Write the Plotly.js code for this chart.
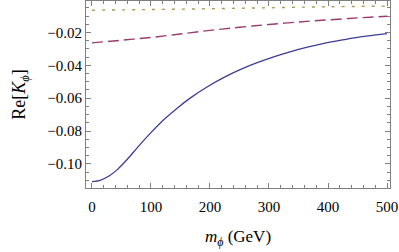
<!DOCTYPE html>
<html><head><meta charset="utf-8">
<script src="https://cdn.plot.ly/plotly-3.0.1.min.js"></script>
<style>body{margin:0;padding:0;background:#fff}#c{width:399px;height:252px}</style>
</head><body><div id="c"></div>
<script>
const xBlue = [0,14,29,43,60,77,100,123,146,167,195,223,252,280,308,337,365,393,422,450,478,500];
const yBlue = [-0.1108,-0.1100,-0.1074,-0.1035,-0.0972,-0.0901,-0.0810,-0.0727,-0.0656,-0.0598,-0.0532,-0.0475,-0.0425,-0.0384,-0.0348,-0.0316,-0.0289,-0.0266,-0.0246,-0.0229,-0.0216,-0.0207];
const xMag = [0,50,100,150,200,250,300,350,400,450,500];
const yMag = [-0.0263,-0.0247,-0.0230,-0.0209,-0.0187,-0.0168,-0.0151,-0.0136,-0.0123,-0.0111,-0.0101];
const xYel = [0,100,200,300,400,500];
const yYel = [-0.0064,-0.0060,-0.0055,-0.0049,-0.0043,-0.0039];
const xTicks = [0,100,200,300,400,500];
const xTickText = ['0','100','200','300','400','500'];
const yTicks = [-0.10,-0.08,-0.06,-0.04,-0.02];
const yTickText = ['\u22120.10','\u22120.08','\u22120.06','\u22120.04','\u22120.02'];

const fam = 'Liberation Serif';
const tickFont = {family:fam, size:15, color:'#000'};
const axisCommon = {
  showline:true, linecolor:'#808080', linewidth:1, mirror:'ticks',
  ticks:'inside', ticklen:5, tickcolor:'#808080', tickwidth:1,
  showgrid:false, zeroline:false, tickfont:tickFont, tickmode:'array'
};
const data = [
  {x:xYel, y:yYel, mode:'lines', line:{color:'#a89a50', width:1.4, dash:'3px,7px', shape:'spline'}},
  {x:xMag, y:yMag, mode:'lines', line:{color:'#993d71', width:1.4, dash:'11px,5px', shape:'spline'}},
  {x:xBlue, y:yBlue, mode:'lines', line:{color:'#3d3d99', width:1.3, shape:'spline', smoothing:0.7}}
];
const layout = {
  width:399, height:252, showlegend:false,
  margin:{l:86, r:9, t:1, b:64},
  paper_bgcolor:'#fff', plot_bgcolor:'#fff', font:{family:fam, size:15, color:'#000'},
  xaxis: Object.assign({}, axisCommon, {
    range:[-10,505], tickvals:xTicks, ticktext:xTickText, ticklabelstandoff:5,
    minor:{dtick:20, tick0:0, ticks:'inside', ticklen:3, tickcolor:'#808080', showgrid:false},
    title:{text:'<i>m</i><sub><i>\u03d5</i></sub> (GeV)', font:{family:fam, size:17, color:'#000'}, standoff:16}
  }),
  yaxis: Object.assign({}, axisCommon, {
    range:[-0.1147,-0.0008], tickvals:yTicks, ticktext:yTickText,
    minor:{dtick:0.005, tick0:0, ticks:'inside', ticklen:3, tickcolor:'#808080', showgrid:false},
    title:{text:'Re[<i>K</i><sub><i>\u03d5</i></sub>]', font:{family:fam, size:18, color:'#000'}, standoff:16}
  })
};
Plotly.newPlot('c', data, layout, {displayModeBar:false, staticPlot:true});
</script></body></html>
